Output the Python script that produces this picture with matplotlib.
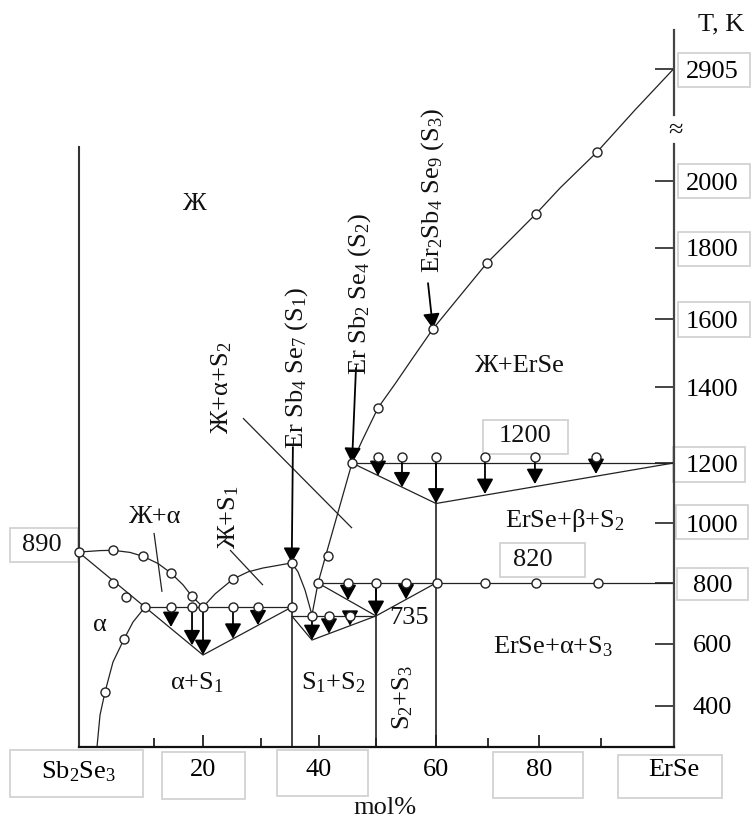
import numpy as np
import matplotlib
matplotlib.use('Agg')
import matplotlib.pyplot as plt
from matplotlib.patches import Rectangle

plt.rcParams['font.family'] = ['Liberation Serif', 'DejaVu Serif']
plt.rcParams['mathtext.fontset'] = 'custom'
plt.rcParams['mathtext.rm'] = 'Liberation Serif'
plt.rcParams['mathtext.default'] = 'regular'

# ---------------- data (mol% ErSe, T in K) ----------------
x_major = [0, 20, 40, 60, 80, 100]
x_major_labels = ['Sb$_2$Se$_3$', '20', '40', '60', '80', 'ErSe']
x_minor = [10, 30, 50, 70, 90]
y_ticks = [400, 600, 800, 1000, 1200, 1400, 1600, 1800, 2000, 2905]
y_tick_labels = ['400', '600', '800', '1000', '1200', '1400', '1600', '1800', '2000', '2905']

# liquidus (alpha side)
liq_a_x = [0, 2.85, 4.57, 6.82, 8.54, 10.82, 13.47, 15.92, 17.76, 20]
liq_a_T = [903, 908, 909, 902, 889, 865, 833, 794, 756, 721]
# solidus alpha
sol_a_x = [0, 8.81]
sol_a_T = [903, 721]
# solvus alpha
solv_x = [8.81, 7.22, 6.03, 4.57, 3.51, 2.85, 2.45]
solv_T = [721, 672, 616, 542, 445, 371, 268]
# eutectic E1 line and Tammann triangle
e1_x = [8.81, 35.3]
e1_T = [721, 721]
tri1_x = [8.81, 20, 35.3]
tri1_T = [721, 564.5, 721]
# S1 liquidus branches
s1_left_x = [20, 22.07, 25.17, 27.76, 30.34, 32.4, 35.3]
s1_left_T = [721, 764, 813, 837, 850, 857, 867]
s1_right_x = [35.3, 36.38, 37.59, 38.79]
s1_right_T = [867, 837, 777, 695]
# compound verticals
s1_x, s1_T = [35.3, 35.3], [867, 268]
s2_x, s2_T = [50, 50], [800, 268]
s3_x, s3_T = [60, 60], [1200, 268]
# eutectic E2 and triangle
e2_x = [35.3, 50]
e2_T = [692, 692]
tri2_x = [35.3, 38.79, 50]
tri2_T = [692, 613, 692]
# S2 liquidus (lower)
s2liq_x = [38.79, 39.83, 41.16, 45.79]
s2liq_T = [695, 800, 890, 1200]
# 820 isotherm and triangle
iso800_x = [39.83, 100]
iso800_T = [800, 800]
tri3_x = [39.83, 50, 60]
tri3_T = [800, 692, 800]
# 1200 isotherm and triangle
iso1200_x = [45.79, 100]
iso1200_T = [1200, 1200]
tri4_x = [45.79, 60, 100]
tri4_T = [1200, 1065, 1200]
# main liquidus (ErSe side)
liq_e_x = [45.79, 47.54, 50.33, 53.17, 56, 59.5, 63.65, 69.81, 74.31, 79.41, 83.39, 89.35, 94.69, 100]
liq_e_T = [1200, 1258, 1345, 1409, 1482, 1571, 1648, 1758, 1824, 1902, 1979, 2234, 2574, 2905]

# experimental points (open circles)
pts_x = [0, 4.57, 8.54, 13.47, 17.76, 4.57, 6.29, 6.03, 3.51,
         25.17, 35.3, 41.58, 39.83, 45.79, 50.33, 59.5, 69.81, 79.41, 89.35]
pts_T = [903, 909, 889, 833, 756, 800, 754, 616, 445,
         813, 867, 890, 800, 1200, 1345, 1571, 1758, 1902, 2234]
e1_pts_x = [8.81, 13.47, 17.76, 20, 25.17, 29.48, 35.3]
e2_pts_x = [38.79, 41.75, 45.44]
iso800_pts_x = [45.09, 50, 55, 60.19, 69.42, 79.41, 89.52]
iso1200_pts_x = [50.33, 54.33, 60, 69.42, 79.2, 89.19]
iso1200_pts_T = 1215

# arrows on isotherms
arr_e1_x = [13.47, 17.76, 20, 25.17, 29.48]
arr_e2_x = [38.79, 41.75, 45.44]
arr_800_x = [45.09, 50, 55]
arr_1200_x = [50.33, 54.33, 60, 69.42, 79.2, 89.19]

# label pointer lines
ptr_a_x, ptr_a_T = [10, 11.63], [967, 771]
ptr_s1_x, ptr_s1_T = [24.66, 30.34], [910, 793]
ptr_as2_x, ptr_as2_T = [26.9, 45.79], [1318, 983]
# compound arrows (tail -> tip)
cmp_tail = [(35.5, 1242), (46.49, 1456), (58.67, 1701)]
cmp_tip = [(35.3, 867), (45.79, 1200), (59.5, 1571)]

# ---------------- hand-drawn (non-uniform) axis scales ----------------
XK = [0, 10, 20, 30, 40, 50, 60, 70, 80, 90, 100]
XP = [78.5, 154, 203, 261, 319, 376, 436, 488, 539, 601, 673.5]
TK = [268, 400, 600, 800, 1000, 1200, 1400, 1600, 1800, 2000, 2905, 3220]
YP = -np.array([747, 706, 644, 583, 523, 463, 387, 319, 248, 181, 69, 30], float)

W, H = 753, 818
fig = plt.figure(figsize=(W / 100, H / 100), dpi=100)
ax = fig.add_axes([78.5 / W, (H - 747) / H, (673.5 - 78.5) / W, (747 - 30) / H])
ax.patch.set_facecolor('none')
ax.set_xscale('function', functions=(lambda v: np.interp(v, XK, XP), lambda p: np.interp(p, XP, XK)))
ax.set_yscale('function', functions=(lambda v: np.interp(v, TK, YP), lambda p: np.interp(p, YP, TK)))
ax.set_xlim(0, 100)
ax.set_ylim(268, 3220)

LC = '#222222'
LW = 0.9
FS = 19


def line(x, y, lw=LW):
    ax.plot(x, y, color=LC, lw=lw, solid_capstyle='butt', zorder=2, clip_on=False)


for xs, ys in [(liq_a_x, liq_a_T), (sol_a_x, sol_a_T), (solv_x, solv_T), (e1_x, e1_T),
               (tri1_x, tri1_T), (s1_left_x, s1_left_T), (s1_right_x, s1_right_T),
               (e2_x, e2_T), (tri2_x, tri2_T), (s2liq_x, s2liq_T), (iso800_x, iso800_T),
               (tri3_x, tri3_T), (iso1200_x, iso1200_T), (tri4_x, tri4_T), (liq_e_x, liq_e_T),
               (ptr_a_x, ptr_a_T), (ptr_s1_x, ptr_s1_T), (ptr_as2_x, ptr_as2_T)]:
    line(xs, ys)
for xs, ys in [(s1_x, s1_T), (s2_x, s2_T), (s3_x, s3_T)]:
    line(xs, ys, lw=1.2)

AST = '-|>,head_length=0.65,head_width=0.36'


def arrow(x0, y0, x1, y1):
    ax.annotate('', xy=(x1, y1), xytext=(x0, y0),
                arrowprops=dict(arrowstyle=AST, mutation_scale=14, lw=1.3, color='black',
                                shrinkA=0, shrinkB=0), zorder=4)


for xs, lvl, tx, tT in [(arr_e1_x, 721, tri1_x, tri1_T), (arr_e2_x, 692, tri2_x, tri2_T),
                        (arr_800_x, 800, tri3_x, tri3_T), (arr_1200_x, iso1200_pts_T, tri4_x, tri4_T)]:
    for xv in xs:
        arrow(xv, lvl, xv, float(np.interp(xv, tx, tT)))
for (a, b), (c, d) in zip(cmp_tail, cmp_tip):
    arrow(a, b, c, d)

mk = dict(ls='none', marker='o', mfc='white', mec=LC, ms=6.5, mew=1.0, zorder=6, clip_on=False)
ax.plot(pts_x, pts_T, **mk)
ax.plot(e1_pts_x, [721] * len(e1_pts_x), **mk)
ax.plot(e2_pts_x, [692] * len(e2_pts_x), **mk)
ax.plot(iso800_pts_x, [800] * len(iso800_pts_x), **mk)
ax.plot(iso1200_pts_x, [iso1200_pts_T] * len(iso1200_pts_x), **mk)

# axes frame
for s in ['top', 'right']:
    ax.spines[s].set_visible(False)
ax.spines['left'].set_bounds(268, 2275)
ax.spines['left'].set_linewidth(1.5)
ax.spines['left'].set_color('#333333')
ax.spines['bottom'].set_linewidth(1.6)
ax.spines['bottom'].set_color('#111111')
yt = ax.get_yaxis_transform()
ax.plot([1, 1], [268, 2299], transform=yt, color='#444444', lw=1.6, clip_on=False)
ax.plot([1, 1], [2533, 3220], transform=yt, color='#444444', lw=1.6, clip_on=False)

ax.set_xticks(x_major, labels=x_major_labels)
ax.set_xticks(x_minor, minor=True)
ax.tick_params(axis='x', which='major', direction='in', length=8.5, width=1.3, pad=9, labelsize=FS, color='#222')
ax.tick_params(axis='x', which='minor', direction='in', length=6.5, width=1.3, color='#222')
ax.yaxis.tick_right()
ax.set_yticks(y_ticks, labels=y_tick_labels)
ax.yaxis.set_minor_locator(matplotlib.ticker.NullLocator())
ax.tick_params(axis='y', direction='in', length=13.5, width=1.4, pad=28, labelsize=FS, color='#444')
for lab in ax.get_yticklabels():
    lab.set_ha('center')


def px(x, y):
    return x / W, 1 - y / H


def txt(x, y, s, rot=0, fs=FS, **kw):
    fig.text(*px(x, y), s, ha='center', va='center', rotation=rot, fontsize=fs, color='#111', **kw)


def box(x0, y0, x1, y1):
    fig.add_artist(Rectangle(px(x0, y1), (x1 - x0) / W, (y1 - y0) / H, transform=fig.transFigure,
                             fill=False, ec='#d2d2d2', lw=1.3, zorder=0))


for b in [(678, 53, 750, 87), (678, 164, 750, 198), (678, 232, 750, 266), (678, 302, 750, 337),
          (673, 447, 745, 482), (676, 505, 748, 539), (677, 568, 748, 600), (10, 528, 78, 562),
          (483, 420, 568, 454), (500, 543, 585, 577), (10, 750, 143, 797), (162, 752, 245, 799),
          (277, 750, 368, 796), (493, 752, 583, 798), (618, 755, 722, 798)]:
    box(*b)

txt(195, 204, 'Ж')
txt(155, 517, 'Ж+α')
txt(229, 517, 'Ж+S$_1$', rot=90)
txt(222, 388, 'Ж+α+S$_2$', rot=90)
txt(297, 368, 'Er Sb$_4$ Se$_7$ (S$_1$)', rot=90)
txt(360, 294, 'Er Sb$_2$ Se$_4$ (S$_2$)', rot=90)
txt(433, 190, 'Er$_2$Sb$_4$ Se$_9$ (S$_3$)', rot=90)
txt(520, 366, 'Ж+ErSe')
txt(525, 436, '1200')
txt(565, 520, 'ErSe+β+S$_2$')
txt(533, 560, '820')
txt(409, 618, '735')
txt(553, 647, 'ErSe+α+S$_3$')
txt(100, 625, 'α')
txt(197, 683, 'α+S$_1$')
txt(333, 683, 'S$_1$+S$_2$')
txt(403, 698, 'S$_2$+S$_3$', rot=90)
txt(42, 545, '890')
txt(721, 24, 'T, K')
txt(676, 131, '≈')
txt(385, 808, 'mol%')

fig.savefig('out.png', dpi=100)
